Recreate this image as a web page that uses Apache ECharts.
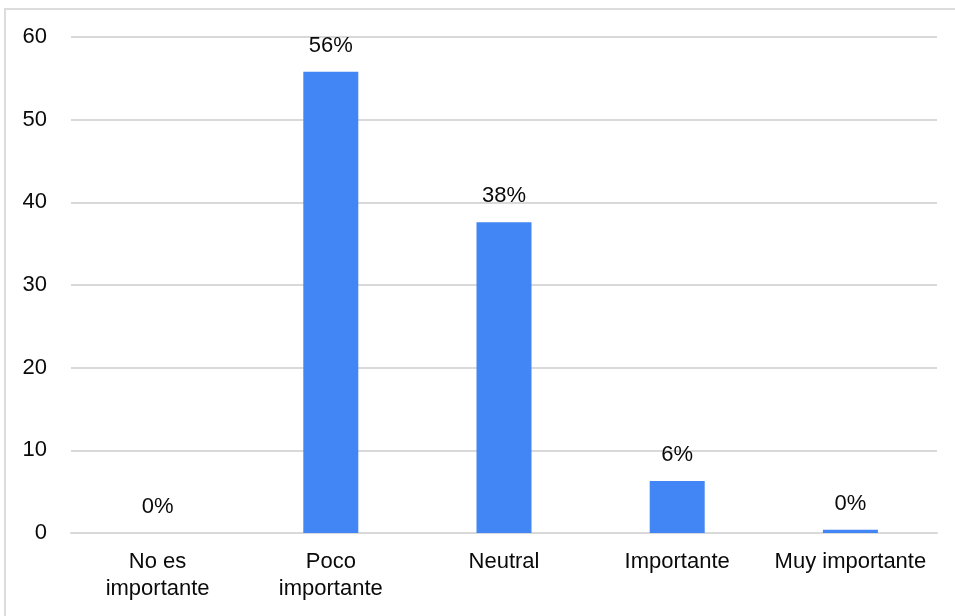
<!DOCTYPE html>
<html>
<head>
<meta charset="utf-8">
<style>
  html, body { margin: 0; padding: 0; background: #fff; }
  #chart { width: 955px; height: 616px; }
</style>
<script src="https://cdn.jsdelivr.net/npm/echarts@6/dist/echarts.min.js"></script>
</head>
<body>
<div id="chart"></div>
<script>
// Survey answers: share of respondents per importance level
const categories = ['No es\nimportante', 'Poco\nimportante', 'Neutral', 'Importante', 'Muy importante'];
const values = [0, 55.8, 37.6, 6.3, 0.4];
const yTicks = [0, 10, 20, 30, 40, 50, 60];

const chart = echarts.init(document.getElementById('chart'), null, { renderer: 'canvas' });
const font = 'Liberation Sans, Arial, Helvetica, sans-serif';

chart.setOption({
  animation: false,
  graphic: [{
    type: 'rect',
    shape: { x: 5, y: 9, width: 1000, height: 700 },
    style: { fill: 'none', stroke: '#dcdcdc', lineWidth: 2 },
    silent: true
  }],
  grid: { left: 71, right: 18, top: 37, bottom: 83, containLabel: false },
  xAxis: {
    type: 'category',
    data: categories,
    axisLine: { show: true, lineStyle: { color: '#d9d9d9', width: 2 } },
    axisTick: { show: false },
    axisLabel: {
      color: '#0a0a0a', fontFamily: font, fontSize: 22, lineHeight: 27,
      margin: 15, interval: 0
    }
  },
  yAxis: {
    type: 'value',
    min: yTicks[0],
    max: yTicks[yTicks.length - 1],
    interval: 10,
    axisLine: { show: false },
    axisTick: { show: false },
    splitLine: { lineStyle: { color: '#d9d9d9', width: 2 } },
    axisLabel: { color: '#0a0a0a', fontFamily: font, fontSize: 22, margin: 24 }
  },
  series: [{
    type: 'bar',
    data: values,
    barWidth: 55,
    itemStyle: { color: '#4285f4' },
    label: {
      show: true,
      position: 'top',
      distance: 15,
      color: '#0a0a0a',
      fontFamily: font,
      fontSize: 22,
      formatter: p => Math.round(p.value) + '%'
    }
  }]
});
</script>
</body>
</html>
